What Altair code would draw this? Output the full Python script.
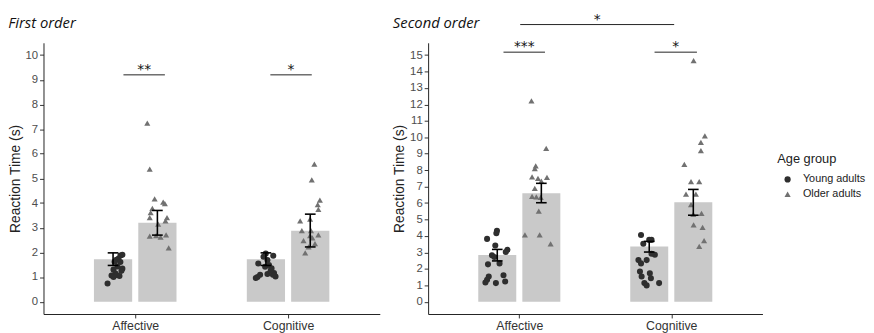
import altair as alt
import pandas as pd

# ---------------- data ----------------
categories = ["Affective", "Cognitive"]
groups = ["Young adults", "Older adults"]

# bar means [young, older]
first_aff_mean = [1.72, 3.20]
first_cog_mean = [1.72, 2.88]
second_aff_mean = [2.84, 6.60]
second_cog_mean = [3.36, 6.05]

# error bar limits [young, older]
first_aff_lo = [1.47, 2.70]
first_aff_hi = [1.98, 3.70]
first_cog_lo = [1.47, 2.22]
first_cog_hi = [1.98, 3.55]
second_aff_lo = [2.48, 6.02]
second_aff_hi = [3.18, 7.20]
second_cog_lo = [3.02, 5.26]
second_cog_hi = [3.67, 6.83]

# individual reaction times (s) and horizontal jitter (category units)
first_aff_young_rt = [1.87, 1.90, 1.74, 1.70, 1.61, 1.62, 1.43, 1.34, 1.30, 1.14, 1.08, 1.06, 1.04, 1.00, 0.74, 1.25]
first_aff_young_jit = [-0.097, -0.084, -0.110, -0.123, -0.097, -0.135, -0.116, -0.084, -0.142, -0.129, -0.123, -0.155, -0.103, -0.142, -0.181, -0.090]
first_aff_older_rt = [7.24, 5.38, 4.17, 4.04, 3.98, 3.78, 3.61, 3.41, 3.41, 3.28, 3.15, 2.66, 2.62, 2.71, 2.18, 2.68]
first_aff_older_jit = [0.079, 0.095, 0.127, 0.183, 0.194, 0.112, 0.101, 0.095, 0.208, 0.198, 0.150, 0.095, 0.166, 0.202, 0.219, 0.137]
first_cog_young_rt = [0.96, 1.09, 1.00, 1.12, 1.55, 1.82, 1.95, 1.86, 1.69, 1.49, 1.35, 1.16, 1.02, 1.09, 1.26, 1.42]
first_cog_young_jit = [-0.211, -0.183, -0.200, -0.135, -0.195, -0.161, -0.146, -0.097, -0.135, -0.125, -0.108, -0.092, -0.082, -0.099, -0.114, -0.150]
first_cog_older_rt = [5.58, 4.94, 4.12, 3.94, 3.74, 3.28, 3.35, 2.88, 2.48, 2.68, 2.59, 2.71, 2.35, 1.98, 2.88, 2.22]
first_cog_older_jit = [0.172, 0.155, 0.208, 0.194, 0.198, 0.079, 0.144, 0.090, 0.101, 0.144, 0.159, 0.198, 0.176, 0.112, 0.150, 0.134]

second_aff_young_rt = [4.32, 4.16, 3.82, 3.42, 3.16, 3.02, 2.82, 2.72, 2.27, 2.33, 1.53, 1.61, 1.33, 1.17, 1.13, 1.23]
second_aff_young_jit = [-0.147, -0.151, -0.212, -0.158, -0.078, -0.089, -0.180, -0.164, -0.206, -0.130, -0.201, -0.104, -0.212, -0.223, -0.154, -0.093]
second_aff_older_rt = [12.21, 9.33, 8.26, 8.10, 7.60, 7.50, 7.56, 7.34, 6.90, 6.40, 6.37, 6.35, 5.51, 4.06, 4.06, 3.52]
second_aff_older_jit = [0.080, 0.177, 0.108, 0.102, 0.084, 0.123, 0.182, 0.145, 0.102, 0.084, 0.112, 0.141, 0.128, 0.037, 0.134, 0.206]
second_cog_young_rt = [1.83, 4.06, 3.76, 3.76, 3.52, 2.86, 2.92, 2.53, 2.53, 2.33, 1.73, 1.53, 1.43, 1.13, 0.99, 1.13]
second_cog_young_jit = [-0.206, -0.199, -0.145, -0.130, -0.184, -0.108, -0.130, -0.216, -0.162, -0.199, -0.141, -0.195, -0.134, -0.177, -0.162, -0.080]
second_cog_older_rt = [14.66, 10.09, 9.69, 9.19, 8.36, 7.30, 7.30, 6.54, 6.54, 5.91, 5.37, 5.31, 4.67, 4.52, 3.72, 3.36]
second_cog_older_jit = [0.147, 0.221, 0.195, 0.195, 0.086, 0.130, 0.184, 0.097, 0.162, 0.130, 0.199, 0.145, 0.147, 0.206, 0.216, 0.184]

# significance brackets: start, end (category axis units), height (s), label
first_sig_start = [0.923, 1.884]
first_sig_end = [1.194, 2.155]
first_sig_y = [9.2, 9.2]
first_sig_label = ["**", "*"]
second_sig_start = [0.896, 1.890, 1.006]
second_sig_end = [1.169, 2.169, 2.019]
second_sig_y = [15.18, 15.18, 16.86]
second_sig_label = ["***", "*", "*"]

# ---------------- styling constants ----------------
DODGE = [-0.145, 0.145]
BAR_HALF = 0.125
CAP_HALF = 0.035
FONT = "Liberation Sans"


def bar_table(means, los, his):
    rows = []
    for ci, cat in enumerate(categories):
        for gi, g in enumerate(groups):
            xc = ci + 1 + DODGE[gi]
            rows.append(dict(category=cat, group=g, mean=means[ci][gi], lo=los[ci][gi], hi=his[ci][gi],
                             xc=xc, xl=xc - BAR_HALF, xr=xc + BAR_HALF,
                             cl=xc - CAP_HALF, cr=xc + CAP_HALF))
    return pd.DataFrame(rows)


def point_table(series):
    rows = []
    for ci, cat in enumerate(categories):
        for gi, g in enumerate(groups):
            rts, jits = series[ci][gi]
            for rt, j in zip(rts, jits):
                rows.append(dict(category=cat, group=g, rt=rt, x=ci + 1 + j))
    return pd.DataFrame(rows)


def sig_table(starts, ends, ys, labels):
    return pd.DataFrame(dict(x1=starts, x2=ends, y=ys, label=labels,
                             xm=[(a + b) / 2 for a, b in zip(starts, ends)]))


def panel(title, bdf, pdf, sdf, ymax, width, title_offset):
    pad = ymax * 0.05
    xs = alt.Scale(domain=[0.4, 2.6], nice=False, zero=False)
    ys = alt.Scale(domain=[-pad, ymax + pad], nice=False, zero=False)
    xaxis = alt.Axis(values=[1, 2], title=None, grid=False,
                     labelExpr=f"['{categories[0]}', '{categories[1]}'][datum.value - 1]",
                     labelFontSize=12.5, labelColor="#333333", labelFont=FONT,
                     tickColor="#333333", domainColor="#222222", tickSize=4, labelPadding=2)
    yaxis = alt.Axis(values=list(range(0, ymax + 1)), title="Reaction Time (s)", grid=False,
                     labelOverlap=False, labelFlush=False,
                     labelFontSize=11.5, labelColor="#4d4d4d", labelFont=FONT,
                     titleFont=FONT, titleFontSize=14, titleFontWeight="normal", titleColor="#222222",
                     tickColor="#333333", domainColor="#222222", tickSize=4, labelPadding=2, titlePadding=3)

    legend = alt.Legend(title="Age group", orient="none", legendX=744, legendY=112,
                        titleFontSize=13, titleFontWeight="normal", titleFont=FONT,
                        titleColor="#222222", labelFontSize=11, labelFont=FONT,
                        labelColor="#222222", symbolSize=40, rowPadding=3,
                        symbolOffset=5, labelOffset=10, titlePadding=8, padding=0)

    def X(field):
        return alt.X(field, scale=xs, axis=xaxis)

    def Y(field):
        return alt.Y(field, scale=ys, axis=yaxis)

    bars = alt.Chart(bdf).mark_bar(color="#c9c9c9").encode(
        x=X("xl:Q"), x2="xr:Q", y=Y("mean:Q"), y2=alt.datum(0),
    )
    points = alt.Chart(pdf).mark_point(filled=True, opacity=1, size=38).encode(
        x=X("x:Q"),
        y=Y("rt:Q"),
        color=alt.Color("group:N", scale=alt.Scale(domain=groups, range=["#2e2e2e", "#717171"]),
                        legend=legend),
        shape=alt.Shape("group:N", scale=alt.Scale(domain=groups, range=["circle", "triangle-up"]),
                        legend=legend),
    )
    err = alt.Chart(bdf).mark_rule(color="black", strokeWidth=1.6).encode(
        x=X("xc:Q"), y=Y("lo:Q"), y2="hi:Q")
    cap_lo = alt.Chart(bdf).mark_rule(color="black", strokeWidth=1.6).encode(
        x=X("cl:Q"), x2="cr:Q", y=Y("lo:Q"))
    cap_hi = alt.Chart(bdf).mark_rule(color="black", strokeWidth=1.6).encode(
        x=X("cl:Q"), x2="cr:Q", y=Y("hi:Q"))
    brackets = alt.Chart(sdf).mark_rule(color="#222222", strokeWidth=1).encode(
        x=X("x1:Q"), x2="x2:Q", y=Y("y:Q"))
    stars = alt.Chart(sdf).mark_text(fontSize=14, baseline="bottom", dy=2, color="#111111",
                                     font="DejaVu Sans").encode(x=X("xm:Q"), y=Y("y:Q"), text="label:N")

    return alt.layer(bars, points, err, cap_lo, cap_hi, brackets, stars).properties(
        width=width, height=275,
        title=alt.TitleParams(title, anchor="start", font="Open Sans", fontStyle="italic",
                              fontWeight="normal", fontSize=15, color="#111111", offset=title_offset),
    )


first_bars = bar_table([first_aff_mean, first_cog_mean], [first_aff_lo, first_cog_lo], [first_aff_hi, first_cog_hi])
second_bars = bar_table([second_aff_mean, second_cog_mean], [second_aff_lo, second_cog_lo], [second_aff_hi, second_cog_hi])
first_pts = point_table([
    [(first_aff_young_rt, first_aff_young_jit), (first_aff_older_rt, first_aff_older_jit)],
    [(first_cog_young_rt, first_cog_young_jit), (first_cog_older_rt, first_cog_older_jit)],
])
second_pts = point_table([
    [(second_aff_young_rt, second_aff_young_jit), (second_aff_older_rt, second_aff_older_jit)],
    [(second_cog_young_rt, second_cog_young_jit), (second_cog_older_rt, second_cog_older_jit)],
])
first_sig = sig_table(first_sig_start, first_sig_end, first_sig_y, first_sig_label)
second_sig = sig_table(second_sig_start, second_sig_end, second_sig_y, second_sig_label)

left = panel("First order", first_bars, first_pts, first_sig, 10, 341, 12)
right = panel("Second order", second_bars, second_pts, second_sig, 15, 339, -18)

chart = alt.hconcat(left, right, spacing=49, bounds="flush").resolve_scale(
    x="independent", y="independent", color="shared", shape="shared"
).properties(
    padding={"left": 0, "top": 2, "right": 0, "bottom": 0},
    background="white",
).configure_view(stroke=None)

chart.save("out.html", embed_options={"renderer": "svg", "actions": False})
